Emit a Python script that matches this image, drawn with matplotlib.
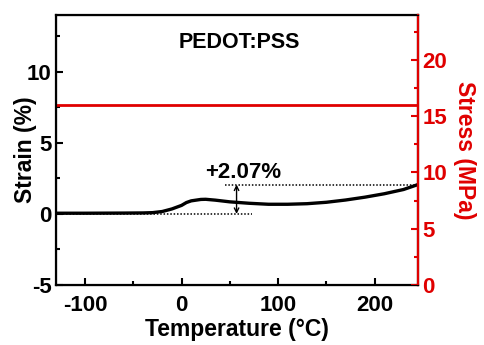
import matplotlib.pyplot as plt
import numpy as np

plt.rcParams['font.family'] = ['Liberation Sans', 'DejaVu Sans']
plt.rcParams['font.weight'] = 'bold'
plt.rcParams['axes.unicode_minus'] = False

# strain curve
temperature = [-130, -100, -60, -40, -30, -20, -10, 0, 5, 10, 20, 25, 35, 50, 70, 90,
               110, 130, 150, 170, 190, 210, 230, 245]
strain = [0.05, 0.05, 0.06, 0.07, 0.09, 0.17, 0.35, 0.6, 0.8, 0.92, 1.02, 1.03, 0.97,
          0.85, 0.75, 0.68, 0.68, 0.72, 0.82, 0.98, 1.18, 1.42, 1.72, 2.07]

# stress (constant)
stress_temperature = [-130, 245]
stress = [16, 16]

x_ticks = [-100, 0, 100, 200]
strain_ticks = [-5, 0, 5, 10]
stress_ticks = [0, 5, 10, 15, 20]

red = "#e00000"

fig = plt.figure(figsize = (4.85, 3.45), dpi = 100)
ax = fig.add_axes([0.1155, 0.174, 0.7465, 0.7825])
ax.plot(temperature, strain, color = "black", lw = 2.4, zorder = 3)
ax.set_xlim(-130, 245)
ax.set_ylim(-5, 14)
ax.set_xticks(x_ticks)
ax.set_yticks(strain_ticks)
ax.set_xticks([-50, 50, 150], minor = True)
ax.set_yticks([-2.5, 2.5, 7.5, 12.5], minor = True)
ax.tick_params(direction = 'in', which = 'both', labelsize = 16, width = 1.5)
ax.tick_params(which = 'major', length = 5)
ax.tick_params(which = 'minor', length = 3)
ax.tick_params(axis = 'x', pad = 7)
ax.tick_params(axis = 'y', pad = 3)
for s in ax.spines.values():
	s.set_linewidth(1.6)
ax.set_xlabel("Temperature (°C)", fontsize = 16.5, fontweight = 'bold', labelpad = 1.5)
ax.set_ylabel("Strain (%)", fontsize = 16.5, fontweight = 'bold', labelpad = -7)

# dotted guides and arrow
ax.plot([-130, 73], [0, 0], color = "black", ls = (0, (1, 1.2)), lw = 1.1)
ax.plot([45, 245], [2.07, 2.07], color = "black", ls = (0, (1, 1.2)), lw = 1.1)
ax.annotate("", xy = (57, 2.07), xytext = (57, 0),
	arrowprops = dict(arrowstyle = '<->', color = "black", lw = 1.0, shrinkA = 0, shrinkB = 0, mutation_scale = 8))
ax.text(64, 2.95, "+2.07%", fontsize = 16, fontweight = 'bold', ha = 'center', va = 'center')
ax.text(60, 12.1, "PEDOT:PSS", fontsize = 15.5, fontweight = 'bold', ha = 'center', va = 'center')

ax2 = ax.twinx()
ax2.plot(stress_temperature, stress, color = red, lw = 2.0)
ax2.set_ylim(0, 24)
ax2.set_yticks(stress_ticks)
ax2.set_yticks([2.5, 7.5, 12.5, 17.5, 22.5], minor = True)
ax2.tick_params(direction = 'in', which = 'both', labelsize = 16, width = 1.5, colors = red, pad = 3)
ax2.tick_params(which = 'major', length = 5)
ax2.tick_params(which = 'minor', length = 3)
ax2.spines['right'].set_color(red)
ax2.spines['right'].set_linewidth(1.6)
ax2.set_ylabel("Stress (MPa)", fontsize = 16.5, fontweight = 'bold', color = red, rotation = 270, labelpad = 21)

plt.savefig("out.png")
